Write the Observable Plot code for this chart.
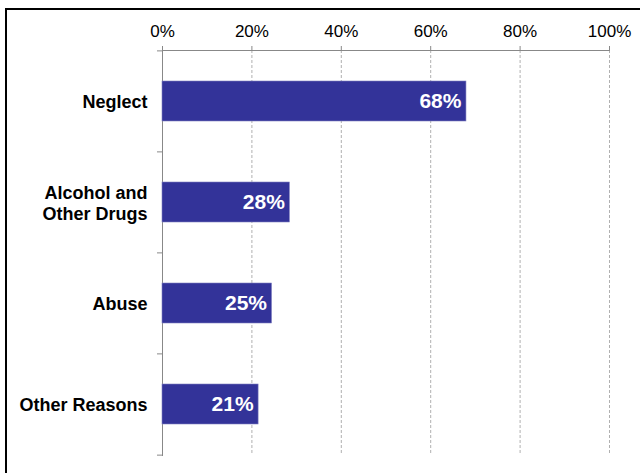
<!DOCTYPE html>
<html>
<head>
<meta charset="utf-8">
<script src="https://cdn.jsdelivr.net/npm/d3@7"></script>
<script src="https://cdn.jsdelivr.net/npm/@observablehq/plot@0.6"></script>
<style>
  html, body { margin: 0; padding: 0; background: #fff; overflow: hidden; }
  #wrap { position: relative; width: 640px; height: 473px; }
  #border { position: absolute; left: 5px; top: 8px; width: 1000px; height: 1000px; border: 2px solid #000; }
  #chart { position: absolute; left: 0; top: 0; }
</style>
</head>
<body>
<div id="wrap"><div id="border"></div><div id="chart"></div></div>
<script>
const categories = ["Neglect", "Alcohol and Other Drugs", "Abuse", "Other Reasons"];
const categoryLabels = ["Neglect", "Alcohol and\nOther Drugs", "Abuse", "Other Reasons"];
const values = [0.68, 0.285, 0.245, 0.215];
const valueLabels = ["68%", "28%", "25%", "21%"];
const xTicks = [0, 0.2, 0.4, 0.6, 0.8, 1.0];

const data = categories.map((c, i) => ({category: c, label: categoryLabels[i], value: values[i], text: valueLabels[i]}));

const W = 640, H = 473, mT = 50, mB = 18, mL = 162, mR = 31;
const step = (H - mT - mB) / categories.length;
const font = "'Liberation Sans', Arial, Helvetica, sans-serif";

const chart = Plot.plot({
  width: W, height: H,
  marginTop: mT, marginBottom: mB, marginLeft: mL, marginRight: mR,
  style: {fontFamily: font, background: "transparent", overflow: "visible"},
  x: {domain: [0, 1], label: null},
  y: {domain: categories, paddingInner: 0.6, paddingOuter: 0.3, axis: null, label: null},
  marks: [
    Plot.gridX(xTicks.slice(1), {stroke: "#b0b0b0", strokeOpacity: 1, strokeDasharray: "3,2"}),
    Plot.frame({anchor: "top", stroke: "#888"}),
    Plot.frame({anchor: "left", stroke: "#888"}),
    Plot.axisX({anchor: "top", ticks: xTicks, tickSize: 5, tickFormat: () => "", color: "#888", label: null}),
    Plot.axisX({anchor: "top", ticks: xTicks, tickSize: 0, tickPadding: 14, tickFormat: d3.format(".0%"), fontSize: 17, color: "#000", label: null}),
    Plot.ruleY(categories, {y: d => d, x1: -0.0112, x2: 0, dy: -step / 2, stroke: "#888"}),
    Plot.ruleY(categories.slice(-1), {y: d => d, x1: -0.0112, x2: 0, dy: step / 2, stroke: "#888"}),
    Plot.barX(data, {y: "category", x: "value", fill: "#333399", stroke: "#8080c0", strokeWidth: 0.6, inset: 0}),
    Plot.text(data, {y: "category", x: "value", text: "text", dx: -5, textAnchor: "end", fill: "white", fontWeight: "bold", fontSize: 21}),
    Plot.text(data, {y: "category", x: () => 0, text: "label", dx: -15, textAnchor: "end", fill: "#000", fontWeight: "bold", fontSize: 18, lineHeight: 1.17})
  ]
});
document.getElementById("chart").appendChild(chart);
</script>
</body>
</html>
